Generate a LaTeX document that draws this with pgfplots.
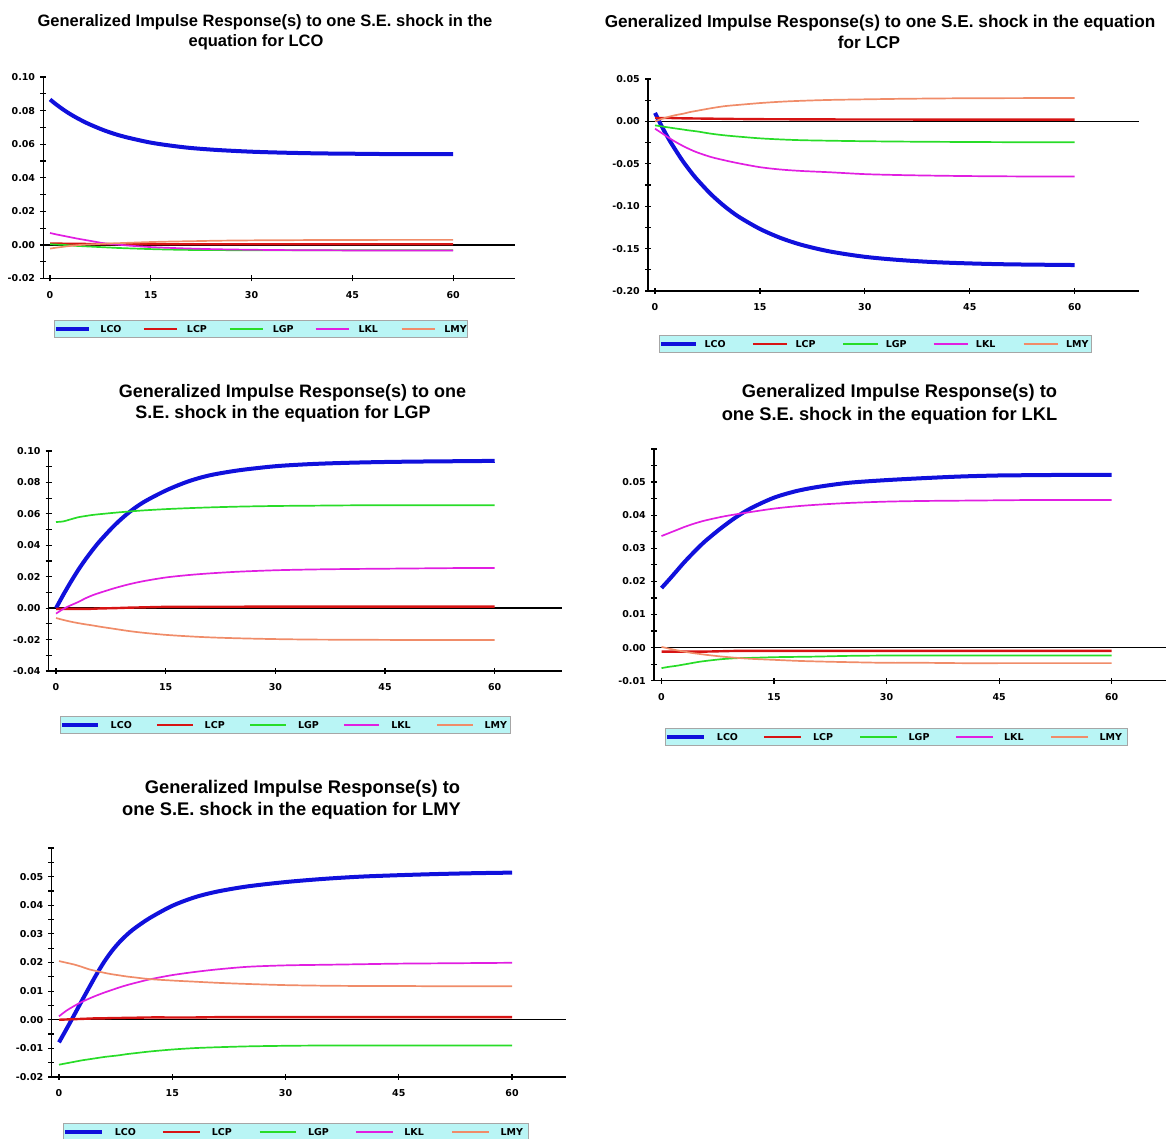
\documentclass[border=0pt]{standalone}
\usepackage{fontspec}
\setmainfont{Liberation Sans}
\newfontfamily\dvs{DejaVu Sans}
\usepackage{pgfplots}
\usepackage{pgfplotstable}
\pgfplotsset{compat=1.18}
\definecolor{cLCO}{RGB}{16,16,220}
\definecolor{cLCP}{RGB}{215,20,20}
\definecolor{cLGP}{RGB}{40,220,40}
\definecolor{cLKL}{RGB}{225,30,225}
\definecolor{cLMY}{RGB}{240,140,105}
\definecolor{legbg}{RGB}{185,245,245}

\pgfplotstableread{
x LCO LCP LGP LKL LMY
0 0.0866 0.0008 0.0004 0.0071 -0.0022
1 0.0834 0.0008 0.0002 0.0062 -0.0016
2 0.0805 0.0007 0.0000 0.0054 -0.0011
3 0.0779 0.0007 -0.0003 0.0046 -0.0006
4 0.0756 0.0006 -0.0006 0.0038 -0.0002
5 0.0735 0.0006 -0.0008 0.0031 0.0001
6 0.0716 0.0005 -0.0010 0.0024 0.0003
8 0.0683 0.0005 -0.0014 0.0010 0.0007
10 0.0656 0.0004 -0.0018 0.0002 0.0010
12 0.0635 0.0004 -0.0021 -0.0005 0.0013
15 0.0609 0.0004 -0.0025 -0.0013 0.0017
18 0.0591 0.0004 -0.0028 -0.0018 0.0020
21 0.0577 0.0004 -0.0030 -0.0022 0.0022
25 0.0565 0.0004 -0.0031 -0.0026 0.0025
30 0.0555 0.0004 -0.0032 -0.0029 0.0027
35 0.0549 0.0004 -0.0032 -0.0031 0.0028
40 0.0545 0.0004 -0.0032 -0.0032 0.0029
45 0.0543 0.0004 -0.0032 -0.0033 0.0029
50 0.0541 0.0004 -0.0032 -0.0033 0.0030
55 0.0540 0.0004 -0.0032 -0.0033 0.0030
60 0.0540 0.0004 -0.0032 -0.0033 0.0030
}\tabA

\pgfplotstableread{
x LCO LCP LGP LKL LMY
0 0.0100 0.0040 -0.0047 -0.0086 0.0000
1 -0.0064 0.0040 -0.0060 -0.0140 0.0030
2 -0.0213 0.0040 -0.0072 -0.0195 0.0055
3 -0.0346 0.0038 -0.0084 -0.0245 0.0075
4 -0.0471 0.0036 -0.0096 -0.0290 0.0090
5 -0.0582 0.0035 -0.0108 -0.0330 0.0110
6 -0.0683 0.0034 -0.0118 -0.0365 0.0125
8 -0.0859 0.0032 -0.0145 -0.0420 0.0155
10 -0.1005 0.0030 -0.0165 -0.0460 0.0180
12 -0.1126 0.0028 -0.0180 -0.0495 0.0195
15 -0.1268 0.0026 -0.0200 -0.0540 0.0216
18 -0.1376 0.0025 -0.0213 -0.0568 0.0232
21 -0.1457 0.0024 -0.0222 -0.0585 0.0243
25 -0.1534 0.0023 -0.0228 -0.0600 0.0253
30 -0.1597 0.0022 -0.0234 -0.0622 0.0260
35 -0.1635 0.0022 -0.0238 -0.0633 0.0266
40 -0.1660 0.0021 -0.0241 -0.0640 0.0270
45 -0.1675 0.0021 -0.0243 -0.0645 0.0273
50 -0.1685 0.0020 -0.0245 -0.0648 0.0274
55 -0.1690 0.0020 -0.0246 -0.0650 0.0275
60 -0.1694 0.0020 -0.0247 -0.0650 0.0275
}\tabB

\pgfplotstableread{
x LCO LCP LGP LKL LMY
0 0.0000 -0.0005 0.0548 -0.0035 -0.0063
1 0.0085 -0.0005 0.0552 -0.0005 -0.0075
2 0.0165 -0.0005 0.0565 0.0018 -0.0086
3 0.0240 -0.0005 0.0578 0.0038 -0.0095
4 0.0308 -0.0005 0.0586 0.0062 -0.0103
5 0.0370 -0.0004 0.0593 0.0082 -0.0110
6 0.0427 -0.0002 0.0598 0.0098 -0.0118
8 0.0527 0.0000 0.0607 0.0127 -0.0132
10 0.0610 0.0003 0.0615 0.0152 -0.0146
12 0.0675 0.0005 0.0622 0.0172 -0.0157
15 0.0748 0.0008 0.0630 0.0195 -0.0170
18 0.0805 0.0008 0.0636 0.0210 -0.0179
21 0.0845 0.0009 0.0641 0.0221 -0.0186
25 0.0877 0.0009 0.0646 0.0232 -0.0192
30 0.0903 0.0010 0.0650 0.0241 -0.0197
35 0.0917 0.0010 0.0652 0.0246 -0.0200
40 0.0925 0.0010 0.0654 0.0249 -0.0201
45 0.0930 0.0010 0.0655 0.0251 -0.0202
50 0.0933 0.0010 0.0655 0.0253 -0.0203
55 0.0935 0.0010 0.0655 0.0255 -0.0203
60 0.0937 0.0010 0.0655 0.0256 -0.0203
}\tabC

\pgfplotstableread{
x LCO LCP LGP LKL LMY
0 0.0180 -0.0012 -0.0062 0.0337 0.0002
1 0.0205 -0.0012 -0.0058 0.0346 -0.0003
2 0.0231 -0.0012 -0.0055 0.0355 -0.0008
3 0.0257 -0.0012 -0.0051 0.0364 -0.0012
4 0.0281 -0.0012 -0.0047 0.0372 -0.0016
5 0.0304 -0.0012 -0.0043 0.0379 -0.0019
6 0.0325 -0.0012 -0.0040 0.0385 -0.0022
8 0.0362 -0.0011 -0.0035 0.0395 -0.0027
10 0.0395 -0.0010 -0.0032 0.0403 -0.0031
12 0.0422 -0.0010 -0.0031 0.0410 -0.0034
15 0.0453 -0.0010 -0.0029 0.0420 -0.0037
18 0.0473 -0.0010 -0.0028 0.0427 -0.0040
21 0.0486 -0.0010 -0.0027 0.0432 -0.0042
25 0.0498 -0.0010 -0.0025 0.0437 -0.0044
30 0.0506 -0.0010 -0.0024 0.0441 -0.0046
35 0.0512 -0.0010 -0.0024 0.0443 -0.0046
40 0.0517 -0.0010 -0.0024 0.0444 -0.0047
45 0.0520 -0.0010 -0.0024 0.0445 -0.0047
50 0.0521 -0.0010 -0.0024 0.0446 -0.0047
55 0.0522 -0.0010 -0.0024 0.0446 -0.0047
60 0.0522 -0.0010 -0.0024 0.0446 -0.0047
}\tabD

\pgfplotstableread{
x LCO LCP LGP LKL LMY
0 -0.0079 0.0000 -0.0157 0.0012 0.0205
1 -0.0032 0.0001 -0.0152 0.0032 0.0199
2 0.0016 0.0002 -0.0147 0.0048 0.0193
3 0.0065 0.0003 -0.0142 0.0062 0.0185
4 0.0113 0.0004 -0.0138 0.0074 0.0176
5 0.0160 0.0005 -0.0134 0.0085 0.0170
6 0.0203 0.0005 -0.0130 0.0095 0.0164
7 0.0240 0.0006 -0.0127 0.0104 0.0159
8 0.0271 0.0006 -0.0124 0.0113 0.0155
9 0.0297 0.0007 -0.0120 0.0121 0.0151
10 0.0319 0.0007 -0.0117 0.0128 0.0148
12 0.0355 0.0008 -0.0111 0.0141 0.0142
15 0.0398 0.0008 -0.0104 0.0156 0.0137
18 0.0428 0.0008 -0.0099 0.0167 0.0133
21 0.0448 0.0009 -0.0096 0.0176 0.0129
25 0.0466 0.0009 -0.0093 0.0185 0.0125
30 0.0481 0.0009 -0.0091 0.0190 0.0121
35 0.0492 0.0009 -0.0090 0.0192 0.0119
40 0.0500 0.0009 -0.0090 0.0194 0.0118
45 0.0505 0.0009 -0.0090 0.0196 0.0118
50 0.0509 0.0009 -0.0090 0.0197 0.0117
55 0.0512 0.0009 -0.0090 0.0198 0.0117
60 0.0514 0.0009 -0.0090 0.0199 0.0117
}\tabE

\pgfplotsset{
  irf/.style={
    scale only axis, clip=false,
    axis x line=bottom, axis y line=left,
    axis line style={-, line width=1.5pt, black},
    xmin=-1, xtick={0,15,30,45,60},
    scaled y ticks=false,
    tick align=center, major tick length=6pt, minor tick length=6pt,
    tick style={black, line width=1.2pt},
    /pgf/number format/assume math mode=true,
    tick label style={font=\dvs\bfseries\fontsize{9.5}{11}\selectfont, inner sep=0pt},
    xticklabel style={anchor=north, yshift=-9.5pt},
    yticklabel style={anchor=east, xshift=-5pt, /pgf/number format/.cd, fixed, fixed zerofill, precision=2, assume math mode=true},
  },
  mylegend/.style n args={5}{
    legend columns=5,
    legend image code/.code={\draw[##1] (0pt,0pt) -- (#3,0pt);},
    legend style={at={(#1,#2)}, anchor=north west, fill=legbg, draw=gray!70, line width=0.9pt,
      inner xsep=0pt, inner ysep=5pt,
      font=\dvs\bfseries\fontsize{9.5}{10}\selectfont,
      cells={anchor=west},
      nodes={inner sep=0pt, text height=6.9pt, text depth=0pt},
      /tikz/every odd column/.append style={column sep=#4},
      /tikz/every even column/.append style={column sep=#5}},
  },
  sLCO/.style={cLCO, line width=4pt, line join=round},
  sLCP/.style={cLCP, line width=2.4pt, line join=round},
  sLGP/.style={cLGP, line width=1.7pt, line join=round},
  sLKL/.style={cLKL, line width=1.7pt, line join=round},
  sLMY/.style={cLMY, line width=1.7pt, line join=round},
}

\newcommand\lb[1]{\makebox[21pt][l]{#1}}
\newcommand\allplots[2]{%
  \addplot[sLCO, smooth] table[x=x, y=LCO] {#1};
  \addplot[sLCP, smooth] table[x=x, y=LCP] {#1};
  \addplot[sLGP, smooth] table[x=x, y=LGP] {#1};
  \addplot[sLKL, smooth] table[x=x, y=LKL] {#1};
  \addplot[sLMY, smooth] table[x=x, y=LMY] {#1};
  \legend{\lb{LCO},\lb{LCP},\lb{LGP},\lb{LKL},\makebox[#2][l]{LMY}}
}

\begin{document}
\begin{tikzpicture}
\useasboundingbox (0,0) rectangle (1166pt,1139pt);

% ---------- Panel 1: LCO ----------
\begin{axis}[irf, at={(43.3pt,860.5pt)}, anchor=south west,
  width=471.7pt, height=201.5pt, xmax=69.2,
  ymin=-0.02, ymax=0.10, ytick={-0.02,0,0.02,0.04,0.06,0.08,0.10},
  minor ytick={-0.01,0.01,0.03,0.05,0.07,0.09},
  mylegend={0.0227}{-0.206}{33pt}{9pt}{21.1pt}]
  \addplot[black, line width=1.5pt, forget plot] coordinates {(-1,0) (69.2,0)};
  \allplots{\tabA}{23pt}
\end{axis}

% ---------- Panel 2: LCP ----------
\begin{axis}[irf, at={(648pt,848pt)}, anchor=south west,
  width=491pt, height=212pt, xmax=69.2,
  ymin=-0.20, ymax=0.05, ytick={-0.20,-0.15,-0.10,-0.05,0,0.05},
  minor ytick={-0.175,-0.125,-0.075,-0.025,0.025},
  mylegend={0.0216}{-0.2075}{34.6pt}{7pt}{25.9pt}]
  \addplot[black, line width=1.5pt, forget plot] coordinates {(-1,0) (69.2,0)};
  \allplots{\tabB}{25pt}
\end{axis}

% ---------- Panel 3: LGP ----------
\begin{axis}[irf, at={(48.7pt,468pt)}, anchor=south west,
  width=513.3pt, height=220pt, xmax=69.2,
  ymin=-0.04, ymax=0.10, ytick={-0.04,-0.02,0,0.02,0.04,0.06,0.08,0.10},
  minor ytick={-0.03,-0.01,0.01,0.03,0.05,0.07,0.09},
  mylegend={0.0212}{-0.2045}{35.7pt}{11pt}{23.9pt}]
  \addplot[black, line width=1.5pt, forget plot] coordinates {(-1,0) (69.2,0)};
  \allplots{\tabC}{26pt}
\end{axis}

% ---------- Panel 4: LKL ----------
\begin{axis}[irf, at={(654pt,458.3pt)}, anchor=south west,
  width=512pt, height=231.7pt, xmax=67.24,
  ymin=-0.01, ymax=0.06, ytick={-0.01,0,0.01,0.02,0.03,0.04,0.05},
  minor ytick={-0.005,0.005,0.015,0.025,0.035,0.045,0.055,0.06},
  mylegend={0.0215}{-0.204}{37pt}{10.5pt}{25.3pt}]
  \addplot[black, line width=1.5pt, forget plot] coordinates {(-1,0) (67.24,0)};
  \allplots{\tabD}{27.5pt}
\end{axis}

% ---------- Panel 5: LMY ----------
\begin{axis}[irf, at={(51.45pt,62pt)}, anchor=south west,
  width=514.55pt, height=229pt, xmax=67.15,
  ymin=-0.02, ymax=0.06, ytick={-0.02,-0.01,0,0.01,0.02,0.03,0.04,0.05},
  minor ytick={-0.015,-0.005,0.005,0.015,0.025,0.035,0.045,0.055,0.06},
  mylegend={0.0219}{-0.2009}{36.6pt}{11pt}{26pt}]
  \addplot[black, line width=1.5pt, forget plot] coordinates {(-1,0) (67.15,0)};
  \allplots{\tabE}{28pt}
\end{axis}

% ---------- Titles ----------
\begin{scope}[every node/.style={anchor=base, inner sep=0pt, font=\bfseries\fontsize{16.5}{20}\selectfont}]
  \node at (265pt,1112.5pt) {Generalized Impulse Response(s) to one S.E. shock in the};
  \node at (256pt,1092.5pt) {equation for LCO};
  \node[font=\bfseries\fontsize{17.2}{20}\selectfont] at (880pt,1111pt) {Generalized Impulse Response(s) to one S.E. shock in the equation};
  \node[font=\bfseries\fontsize{17.2}{20}\selectfont] at (869pt,1090pt) {for LCP};
  \node[font=\bfseries\fontsize{18}{20}\selectfont] at (292.5pt,741pt) {Generalized Impulse Response(s) to one};
  \node[font=\bfseries\fontsize{18}{20}\selectfont] at (283pt,720pt) {S.E. shock in the equation for LGP};
  \node[font=\bfseries\fontsize{18.3}{20}\selectfont] at (899.5pt,741pt) {Generalized Impulse Response(s) to};
  \node[font=\bfseries\fontsize{18.3}{20}\selectfont] at (889.5pt,718pt) {one S.E. shock in the equation for LKL};
  \node[font=\bfseries\fontsize{18.3}{20}\selectfont] at (302.5pt,345pt) {Generalized Impulse Response(s) to};
  \node[font=\bfseries\fontsize{18.3}{20}\selectfont] at (291.5pt,323pt) {one S.E. shock in the equation for LMY};
\end{scope}
\end{tikzpicture}
\end{document}
